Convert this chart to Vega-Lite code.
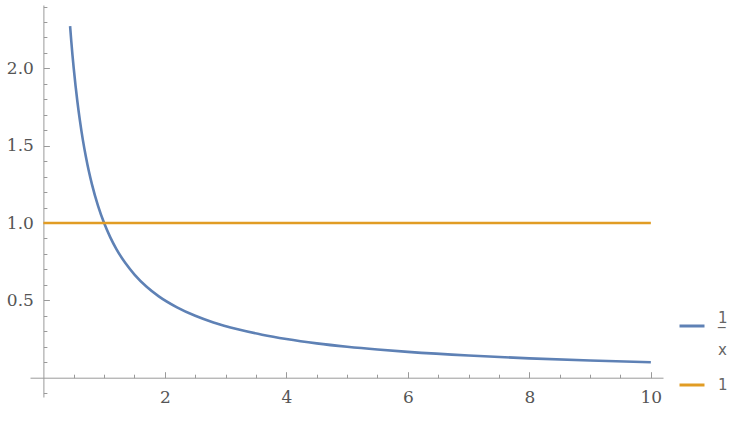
{
  "$schema": "https://vega.github.io/schema/vega-lite/v6.json",
  "width": 633,
  "height": 392,
  "autosize": {"type": "none"},
  "padding": {"left": 30, "top": 5, "right": 87, "bottom": 27},
  "background": "white",
  "config": {"view": {"stroke": null}},
  "data": {
    "values": [
      {"x": 0.44, "y": 2.273, "s": "1/x"},
      {"x": 0.46, "y": 2.174, "s": "1/x"},
      {"x": 0.48, "y": 2.083, "s": "1/x"},
      {"x": 0.5, "y": 2.0, "s": "1/x"},
      {"x": 0.53, "y": 1.887, "s": "1/x"},
      {"x": 0.56, "y": 1.786, "s": "1/x"},
      {"x": 0.6, "y": 1.667, "s": "1/x"},
      {"x": 0.65, "y": 1.538, "s": "1/x"},
      {"x": 0.7, "y": 1.429, "s": "1/x"},
      {"x": 0.75, "y": 1.333, "s": "1/x"},
      {"x": 0.8, "y": 1.25, "s": "1/x"},
      {"x": 0.9, "y": 1.111, "s": "1/x"},
      {"x": 1.0, "y": 1.0, "s": "1/x"},
      {"x": 1.1, "y": 0.909, "s": "1/x"},
      {"x": 1.2, "y": 0.833, "s": "1/x"},
      {"x": 1.35, "y": 0.741, "s": "1/x"},
      {"x": 1.5, "y": 0.667, "s": "1/x"},
      {"x": 1.7, "y": 0.588, "s": "1/x"},
      {"x": 1.9, "y": 0.526, "s": "1/x"},
      {"x": 2.2, "y": 0.455, "s": "1/x"},
      {"x": 2.5, "y": 0.4, "s": "1/x"},
      {"x": 2.8, "y": 0.357, "s": "1/x"},
      {"x": 3.2, "y": 0.313, "s": "1/x"},
      {"x": 3.6, "y": 0.278, "s": "1/x"},
      {"x": 4.0, "y": 0.25, "s": "1/x"},
      {"x": 4.5, "y": 0.222, "s": "1/x"},
      {"x": 5.0, "y": 0.2, "s": "1/x"},
      {"x": 5.5, "y": 0.182, "s": "1/x"},
      {"x": 6.0, "y": 0.167, "s": "1/x"},
      {"x": 7.0, "y": 0.143, "s": "1/x"},
      {"x": 8.0, "y": 0.125, "s": "1/x"},
      {"x": 9.0, "y": 0.111, "s": "1/x"},
      {"x": 10.0, "y": 0.1, "s": "1/x"},
      {"x": 0.0, "y": 1.0, "s": "1"},
      {"x": 10.0, "y": 1.0, "s": "1"}
    ]
  },
  "mark": {"type": "line", "strokeWidth": 2.6, "interpolate": "monotone", "clip": true},
  "encoding": {
    "x": {
      "field": "x",
      "type": "quantitative",
      "scale": {"domain": [-0.22, 10.2], "nice": false, "zero": false},
      "axis": {
        "title": null,
        "offset": -19.3,
        "grid": false,
        "values": [0.5, 1, 1.5, 2, 2.5, 3, 3.5, 4, 4.5, 5, 5.5, 6, 6.5, 7, 7.5, 8, 8.5, 9, 9.5, 10],
        "labelExpr": "datum.value % 2 === 0 ? format(datum.value, 'd') : ''",
        "tickSize": {"condition": {"test": "datum.value % 2 === 0", "value": -6}, "value": -3.5},
        "tickColor": "#9a9a9a",
        "domainColor": "#9a9a9a",
        "tickWidth": 1,
        "domainWidth": 1,
        "labelFont": "DejaVu Serif",
        "labelFontSize": 17,
        "labelColor": "#555555",
        "labelPadding": 18,
        "labelFlush": false,
        "labelOverlap": false
      }
    },
    "y": {
      "field": "y",
      "type": "quantitative",
      "scale": {"domain": [-0.125, 2.41], "nice": false, "zero": false},
      "axis": {
        "title": null,
        "offset": -13.4,
        "grid": false,
        "values": [-0.1, 0.1, 0.2, 0.3, 0.4, 0.5, 0.6, 0.7, 0.8, 0.9, 1.0, 1.1, 1.2, 1.3, 1.4, 1.5, 1.6, 1.7, 1.8, 1.9, 2.0, 2.1, 2.2, 2.3, 2.4],
        "labelExpr": "abs(round(datum.value * 10)) % 5 === 0 ? format(datum.value, '.1f') : ''",
        "tickSize": {"condition": {"test": "abs(round(datum.value * 10)) % 5 === 0", "value": -6}, "value": -3.5},
        "tickColor": "#9a9a9a",
        "domainColor": "#9a9a9a",
        "tickWidth": 1,
        "domainWidth": 1,
        "labelFont": "DejaVu Serif",
        "labelFontSize": 17,
        "labelColor": "#555555",
        "labelPadding": 16,
        "labelFlush": false,
        "labelOverlap": false
      }
    },
    "color": {
      "field": "s",
      "type": "nominal",
      "scale": {"domain": ["1/x", "1"], "range": ["#5E81B5", "#E19C24"]},
      "legend": {
        "title": null,
        "orient": "none",
        "legendX": 648,
        "legendY": 307,
        "symbolType": "stroke",
        "symbolSize": 625,
        "symbolStrokeWidth": 3,
        "labelFont": "DejaVu Sans",
        "labelFontSize": 15,
        "labelColor": "#666666",
        "labelOffset": 12,
        "rowPadding": 13,
        "labelExpr": "datum.label === '1/x' ? ['1', '‾', 'x'] : datum.label",
        "encode": {
          "labels": {
            "update": {
              "lineHeight": {"value": 16},
              "dy": {"signal": "datum.value === '1/x' ? -8 : 0"}
            }
          }
        }
      }
    }
  }
}
